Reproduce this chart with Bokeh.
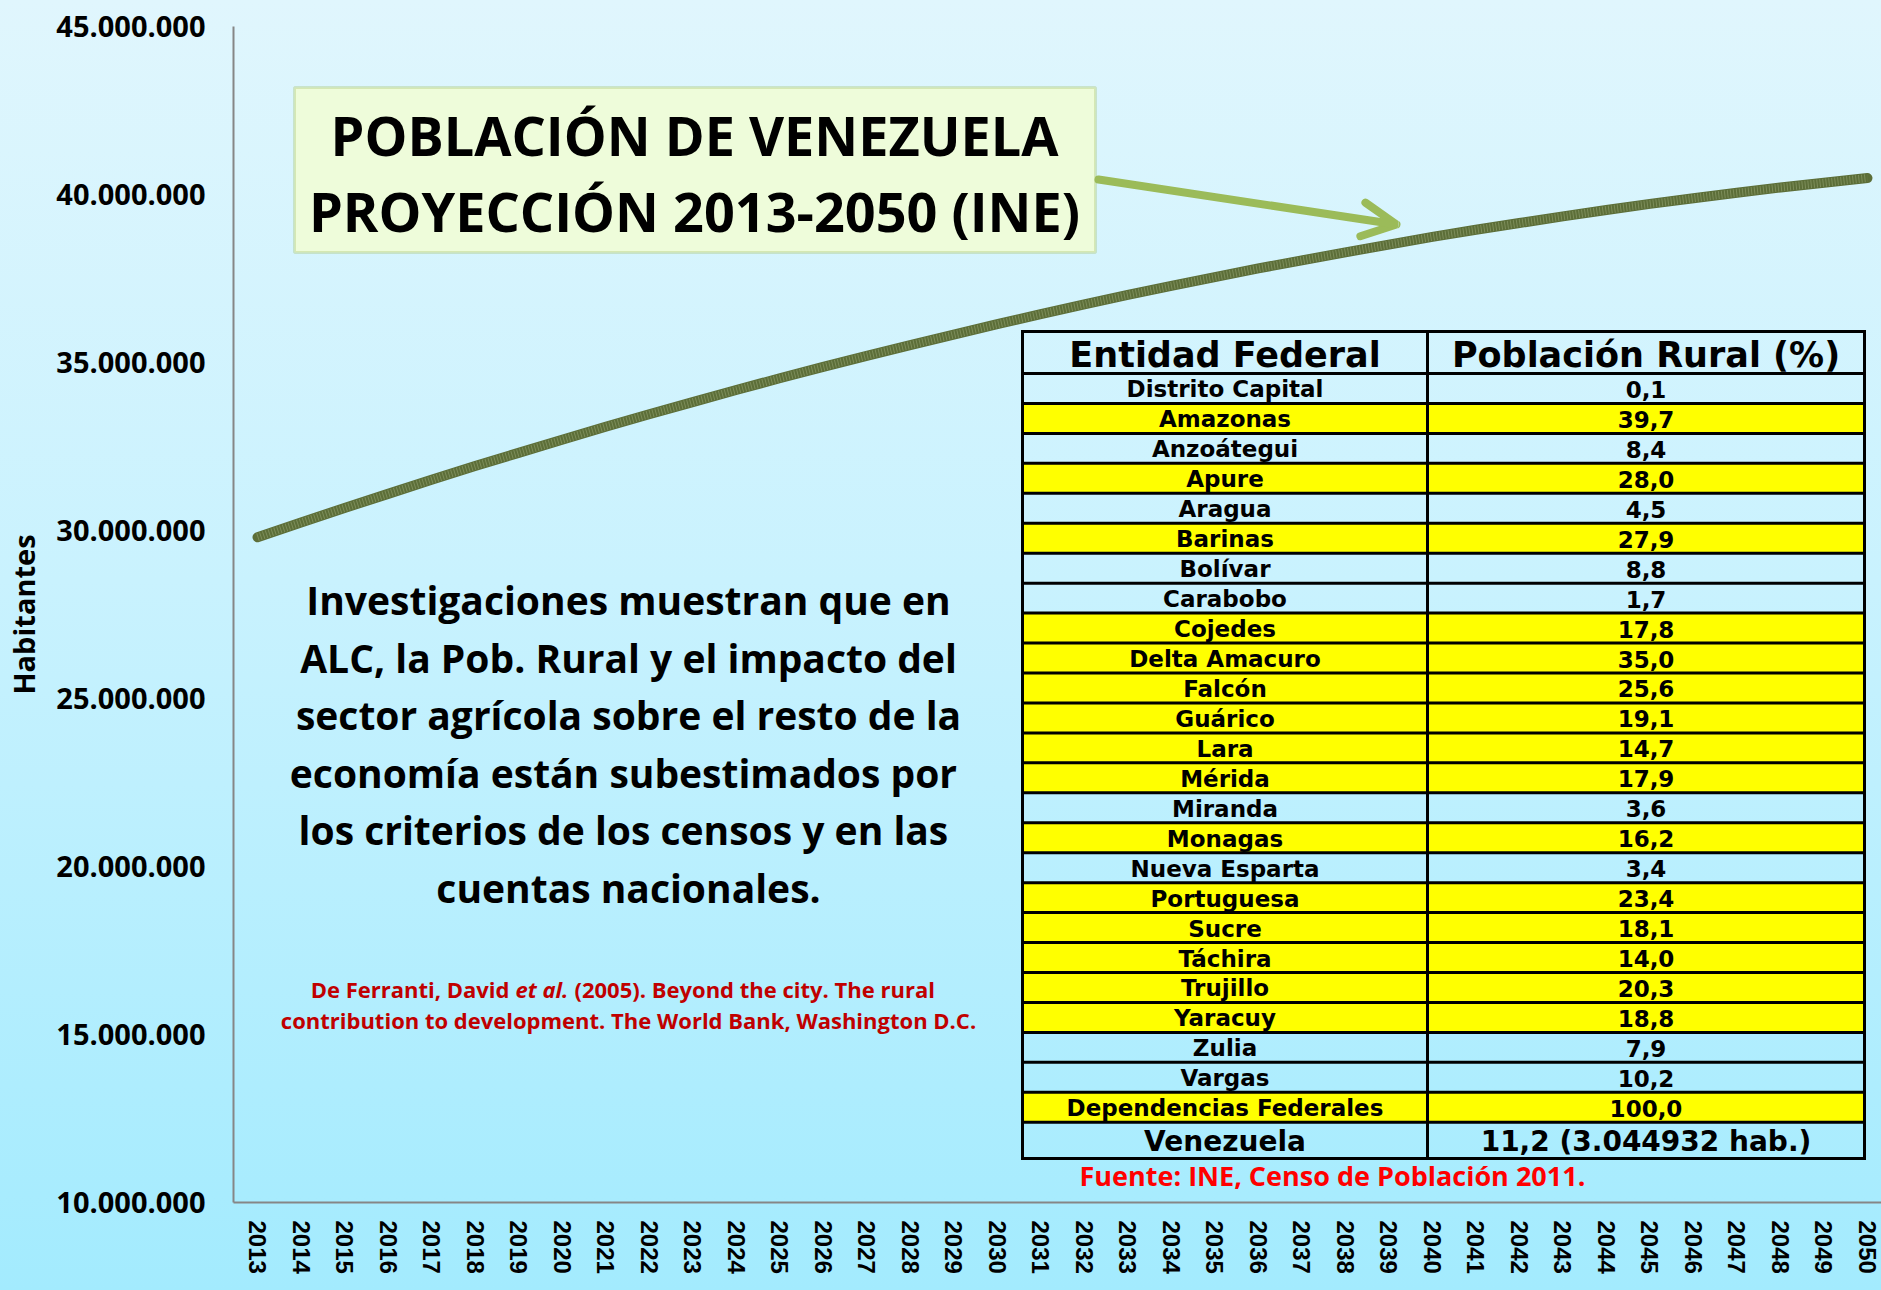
from bokeh.plotting import figure
from bokeh.models import (Range1d, FixedTicker, Label, BoxAnnotation, Arrow,
                          OpenHead, ColumnDataSource)
from bokeh.core.properties import value
from bokeh.embed import file_html
from bokeh.resources import INLINE

# ---------------- data ----------------
years = list(range(2013, 2051))
poblacion = [
    29_800_000, 30_240_000, 30_670_000, 31_090_000, 31_510_000, 31_920_000,
    32_310_000, 32_700_000, 33_090_000, 33_460_000, 33_820_000, 34_180_000,
    34_530_000, 34_870_000, 35_200_000, 35_520_000, 35_830_000, 36_140_000,
    36_440_000, 36_730_000, 37_010_000, 37_280_000, 37_540_000, 37_800_000,
    38_040_000, 38_280_000, 38_510_000, 38_740_000, 38_950_000, 39_150_000,
    39_350_000, 39_540_000, 39_720_000, 39_890_000, 40_050_000, 40_210_000,
    40_350_000, 40_490_000,
]
y_ticks = [10_000_000, 15_000_000, 20_000_000, 25_000_000,
           30_000_000, 35_000_000, 40_000_000, 45_000_000]

entidades = ["Distrito Capital", "Amazonas", "Anzoátegui", "Apure", "Aragua",
             "Barinas", "Bolívar", "Carabobo", "Cojedes", "Delta Amacuro",
             "Falcón", "Guárico", "Lara", "Mérida", "Miranda", "Monagas",
             "Nueva Esparta", "Portuguesa", "Sucre", "Táchira", "Trujillo",
             "Yaracuy", "Zulia", "Vargas", "Dependencias Federales"]
rural_pct = [0.1, 39.7, 8.4, 28.0, 4.5, 27.9, 8.8, 1.7, 17.8, 35.0, 25.6, 19.1,
             14.7, 17.9, 3.6, 16.2, 3.4, 23.4, 18.1, 14.0, 20.3, 18.8, 7.9,
             10.2, 100.0]
pais = "Venezuela"
pais_pct = 11.2
pais_hab = "3.044932 hab."

# ---------------- geometry helpers ----------------
W, H = 1881, 1290
FL, FR, FT, FB = 233, 1881, 26, 1202
XS, XE = 2012.448, 2050.322
YS, YE = 10_000_000, 45_000_000


def dx(px):
    return XS + (px - FL) * (XE - XS) / (FR - FL)


def dy(py):
    return YS + (FB - py) * (YE - YS) / (FB - FT)


def fmt_pct(v):
    return f"{v:.1f}".replace(".", ",")


p = figure(width=W, height=H, output_backend="svg", toolbar_location=None,
           x_range=Range1d(XS, XE), y_range=Range1d(YS, YE),
           min_border_left=FL, min_border_right=W - FR,
           min_border_top=FT, min_border_bottom=H - FB)
p.background_fill_alpha = 0
p.border_fill_alpha = 0
p.outline_line_color = None
p.styles = {"background": "linear-gradient(to bottom, #E0F6FD 0%, #C9F2FE 45%, #A3EBFE 100%)"}
p.xgrid.grid_line_color = None
p.ygrid.grid_line_color = None

# axes
for ax in (p.xaxis[0], p.yaxis[0]):
    ax.axis_line_color = "#868686"
    ax.axis_line_width = 2
    ax.major_tick_line_color = None
    ax.minor_tick_line_color = None
    ax.major_tick_out = 0
    ax.major_tick_in = 0

p.yaxis.ticker = FixedTicker(ticks=y_ticks)
p.yaxis.major_label_overrides = {t: f"{t:,}".replace(",", ".") for t in y_ticks}
p.yaxis.major_label_text_font = "Open Sans"
p.yaxis.major_label_text_font_style = "bold"
p.yaxis.major_label_text_font_size = "29px"
p.yaxis.major_label_text_color = "black"
p.yaxis.major_label_standoff = 28
p.yaxis.axis_label = "Habitantes"
p.yaxis.axis_label_text_font = "Open Sans"
p.yaxis.axis_label_text_font_style = "bold"
p.yaxis.axis_label_text_font_size = "29px"
p.yaxis.axis_label_text_color = "black"
p.yaxis.axis_label_standoff = 10

p.xaxis.ticker = FixedTicker(ticks=years)
p.xaxis.major_label_orientation = "vertical"
p.xaxis.major_label_text_font = "Liberation Sans"
p.xaxis.major_label_text_font_style = "bold"
p.xaxis.major_label_text_font_size = "24px"
p.xaxis.major_label_text_color = "black"
p.xaxis.major_label_standoff = 18

# population line (textured look: dark olive base with light stipple)
src = ColumnDataSource(dict(x=years, y=poblacion))
p.line("x", "y", source=src, line_color="#5C6E38", line_width=10,
       line_cap="round", line_join="round")
p.line("x", "y", source=src, line_color="#B9C89A", line_width=8, line_alpha=0.35,
       line_dash="1 2", line_join="round")

# ---------------- title box + arrow ----------------
p.add_layout(BoxAnnotation(left=dx(294), right=dx(1095), top=dy(87), bottom=dy(252),
                           fill_color="#EEFCDA", fill_alpha=1,
                           line_color="#9BBB59", line_width=3))
for txt, py in (("POBLACIÓN DE VENEZUELA", 134), ("PROYECCIÓN 2013-2050 (INE)", 210)):
    p.add_layout(Label(x=dx(694), y=dy(py), text=txt, text_align="center",
                       text_baseline="middle", text_font="Open Sans",
                       text_font_style="bold", text_font_size="54px",
                       text_color="black"))
p.add_layout(Arrow(x_start=dx(1098), y_start=dy(179), x_end=dx(1396), y_end=dy(224),
                   line_color="#9BBB59", line_width=8, line_cap="round",
                   end=OpenHead(line_color="#9BBB59", line_width=8, size=34,
                                line_cap="round")))

# ---------------- paragraph ----------------
parrafo = ["Investigaciones muestran que en",
           "ALC, la Pob. Rural y el impacto del",
           "sector agrícola sobre el resto de la",
           "economía están  subestimados por",
           "los criterios de los censos  y en las",
           "cuentas nacionales."]
for i, line in enumerate(parrafo):
    p.add_layout(Label(x=dx(628), y=dy(599 + i * 57.6), text=line,
                       text_align="center", text_baseline="middle",
                       text_font="Open Sans", text_font_style="bold",
                       text_font_size="39px", text_color="black"))

cit_color = "#C00000"
cit_kw = dict(text_baseline="middle", text_font="Open Sans",
              text_font_size="22px", text_color=cit_color)
p.add_layout(Label(x=dx(509), y=dy(988), text="De Ferranti, David",
                   text_align="right", text_font_style="bold", **cit_kw))
p.add_layout(Label(x=dx(515), y=dy(988), text="et al.",
                   text_align="left", text_font_style="bold italic", **cit_kw))
p.add_layout(Label(x=dx(574), y=dy(988), text="(2005). Beyond the city. The rural",
                   text_align="left", text_font_style="bold", **cit_kw))
p.add_layout(Label(x=dx(628), y=dy(1019),
                   text="contribution to development. The World Bank, Washington D.C.",
                   text_align="center", text_font_style="bold", **cit_kw))

# ---------------- table ----------------
TL, TM, TR = 1022, 1427, 1864
HT, HB = 331, 373
RH = 29.95
n = len(entidades)
VB = 1158

tops = [HB + i * RH for i in range(n)]
row_src = ColumnDataSource(dict(
    left=[dx(TL)] * n, right=[dx(TR)] * n,
    top=[dy(t) for t in tops], bottom=[dy(t + RH) for t in tops],
    alpha=[1.0 if v > pais_pct else 0.0 for v in rural_pct],
    xc1=[dx((TL + TM) / 2)] * n, xc2=[dx((TM + TR) / 2)] * n,
    yc=[dy(t + RH / 2 + 1) for t in tops],
    name=entidades, val=[fmt_pct(v) for v in rural_pct],
))
p.quad(left="left", right="right", top="top", bottom="bottom", source=row_src,
       fill_color="#FFFF00", fill_alpha="alpha", line_color=None)

hy = [HT, HB] + [t + RH for t in tops] + [VB]
p.segment(x0=[dx(TL)] * len(hy), x1=[dx(TR)] * len(hy),
          y0=[dy(v) for v in hy], y1=[dy(v) for v in hy],
          line_color="black", line_width=3, line_cap="square")
p.segment(x0=[dx(TL), dx(TM), dx(TR)], x1=[dx(TL), dx(TM), dx(TR)],
          y0=[dy(HT)] * 3, y1=[dy(VB)] * 3,
          line_color="black", line_width=3, line_cap="square")

cell_kw = dict(text_baseline="middle", text_align="center",
               text_font=value("DejaVu Sans"), text_font_style="bold",
               text_color="black")
p.text(x="xc1", y="yc", text="name", source=row_src, text_font_size="23px", **cell_kw)
p.text(x="xc2", y="yc", text="val", source=row_src, text_font_size="23px", **cell_kw)

p.text(x=[dx((TL + TM) / 2), dx((TM + TR) / 2)], y=[dy(354), dy(354)],
       text=["Entidad Federal", "Población Rural (%)"], text_font_size="35px", **cell_kw)
p.text(x=[dx((TL + TM) / 2), dx((TM + TR) / 2)], y=[dy(1141), dy(1141)],
       text=[pais, f"{fmt_pct(pais_pct)} ({pais_hab})"], text_font_size="28px", **cell_kw)

p.add_layout(Label(x=dx(1079), y=dy(1175), text="Fuente: INE,  Censo de Población  2011.",
                   text_align="left", text_baseline="middle",
                   text_font="Open Sans", text_font_style="bold",
                   text_font_size="27px", text_color="#FF0000"))

open("out.html", "w").write(file_html(p, INLINE))
